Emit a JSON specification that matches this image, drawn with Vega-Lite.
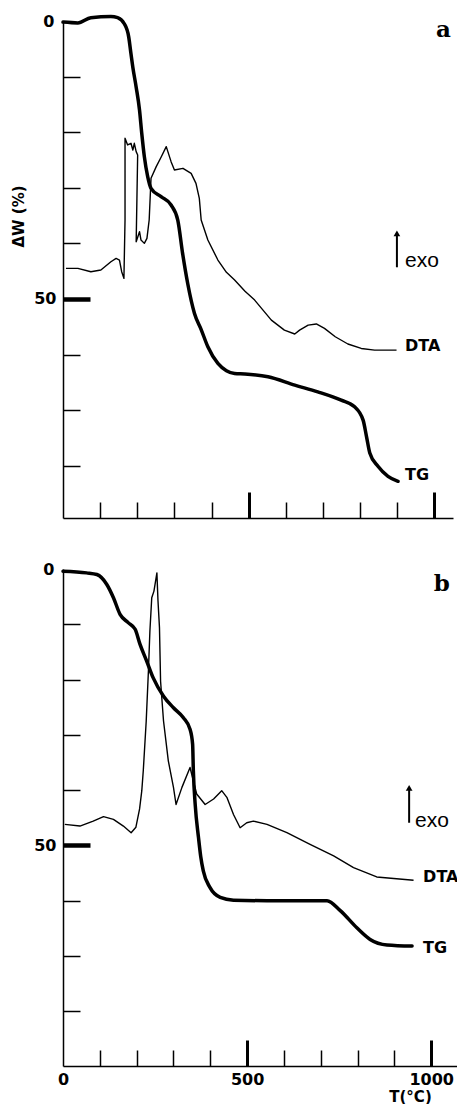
{
  "$schema": "https://vega.github.io/schema/vega-lite/v6.json",
  "background": "white",
  "padding": {"left": 11, "top": 13, "right": 0, "bottom": 0},
  "spacing": 41,
  "config": {
    "view": {"stroke": null},
    "font": "DejaVu Sans",
    "axis": {
      "grid": false,
      "tickCount": 30,
      "domainColor": "black",
      "domainWidth": 1.5,
      "tickColor": "black",
      "labelColor": "black",
      "labelFont": "DejaVu Sans",
      "labelFontWeight": "bold",
      "labelFontSize": 16,
      "titleColor": "black",
      "titleFont": "DejaVu Sans",
      "titleFontWeight": "bold"
    }
  },
  "datasets": {
    "tgA": [
      {"T": 0, "W": 0.2}, {"T": 40, "W": 0.35}, {"T": 75, "W": -0.6}, {"T": 129, "W": -0.8}, {"T": 147, "W": -0.6},
      {"T": 165, "W": 0.5}, {"T": 177, "W": 2.9}, {"T": 183, "W": 5.9}, {"T": 188, "W": 8.3}, {"T": 197, "W": 11.9},
      {"T": 206, "W": 16}, {"T": 212, "W": 20.2}, {"T": 219, "W": 24.4}, {"T": 228, "W": 28}, {"T": 237, "W": 30.1},
      {"T": 264, "W": 31.6}, {"T": 291, "W": 33.1}, {"T": 309, "W": 35.8}, {"T": 322, "W": 41.8}, {"T": 336, "W": 47.3},
      {"T": 354, "W": 52.6}, {"T": 372, "W": 55.5}, {"T": 390, "W": 58.6}, {"T": 417, "W": 61.6}, {"T": 440, "W": 62.9},
      {"T": 462, "W": 63.4}, {"T": 489, "W": 63.5}, {"T": 552, "W": 64}, {"T": 624, "W": 65.5}, {"T": 686, "W": 66.7},
      {"T": 749, "W": 68.2}, {"T": 785, "W": 69.4}, {"T": 808, "W": 71.8}, {"T": 817, "W": 74.7}, {"T": 826, "W": 77.7},
      {"T": 848, "W": 80.1}, {"T": 875, "W": 81.9}, {"T": 902, "W": 82.8}
    ],
    "dtaA": [
      {"T": 8, "W": 44.5}, {"T": 40, "W": 44.5}, {"T": 75, "W": 45.1}, {"T": 102, "W": 44.8}, {"T": 129, "W": 43.3},
      {"T": 143, "W": 42.7}, {"T": 152, "W": 43.0}, {"T": 158, "W": 45.1}, {"T": 164, "W": 46.3}, {"T": 167, "W": 35.8},
      {"T": 167, "W": 21.1}, {"T": 174, "W": 22.3}, {"T": 183, "W": 22.0}, {"T": 188, "W": 23.2}, {"T": 192, "W": 22.0},
      {"T": 197, "W": 23.5}, {"T": 201, "W": 24.1}, {"T": 199, "W": 32}, {"T": 197, "W": 39.7}, {"T": 206, "W": 37.9},
      {"T": 210, "W": 39.4}, {"T": 219, "W": 40.0}, {"T": 226, "W": 39.1}, {"T": 232, "W": 35.8}, {"T": 237, "W": 28.3},
      {"T": 251, "W": 26.2}, {"T": 264, "W": 24.5}, {"T": 278, "W": 22.6}, {"T": 291, "W": 25.3}, {"T": 300, "W": 26.8},
      {"T": 323, "W": 26.5}, {"T": 345, "W": 27.4}, {"T": 358, "W": 29.2}, {"T": 367, "W": 31.9}, {"T": 372, "W": 35.8},
      {"T": 390, "W": 39.4}, {"T": 417, "W": 43.0}, {"T": 440, "W": 45.2}, {"T": 462, "W": 46.6}, {"T": 490, "W": 48.6},
      {"T": 516, "W": 50.2}, {"T": 561, "W": 53.8}, {"T": 596, "W": 55.6}, {"T": 624, "W": 56.3}, {"T": 637, "W": 55.6},
      {"T": 660, "W": 54.7}, {"T": 682, "W": 54.5}, {"T": 704, "W": 55.3}, {"T": 733, "W": 56.8}, {"T": 767, "W": 58.1},
      {"T": 803, "W": 58.9}, {"T": 839, "W": 59.2}, {"T": 898, "W": 59.2}
    ],
    "tgB": [
      {"T": 0, "W": 0.4}, {"T": 64, "W": 0.7}, {"T": 92, "W": 1.0}, {"T": 119, "W": 2.8}, {"T": 137, "W": 5.2},
      {"T": 155, "W": 8.2}, {"T": 177, "W": 9.7}, {"T": 196, "W": 10.9}, {"T": 209, "W": 13.6}, {"T": 227, "W": 16.6},
      {"T": 245, "W": 19.7}, {"T": 273, "W": 23.0}, {"T": 300, "W": 25.1}, {"T": 327, "W": 26.9}, {"T": 345, "W": 29.0},
      {"T": 352, "W": 31.7}, {"T": 354, "W": 36.5}, {"T": 359, "W": 42.6}, {"T": 368, "W": 48.6}, {"T": 374, "W": 52},
      {"T": 381, "W": 54.6}, {"T": 399, "W": 57.6}, {"T": 427, "W": 59.4}, {"T": 463, "W": 59.9}, {"T": 554, "W": 60.0},
      {"T": 644, "W": 60.0}, {"T": 717, "W": 60.0}, {"T": 753, "W": 61.8}, {"T": 798, "W": 64.9}, {"T": 834, "W": 67.0},
      {"T": 880, "W": 68.0}, {"T": 948, "W": 68.2}
    ],
    "dtaB": [
      {"T": 5, "W": 46.2}, {"T": 46, "W": 46.5}, {"T": 82, "W": 45.6}, {"T": 110, "W": 44.8}, {"T": 137, "W": 45.3},
      {"T": 164, "W": 46.5}, {"T": 185, "W": 47.7}, {"T": 198, "W": 46.7}, {"T": 208, "W": 43.4}, {"T": 214, "W": 40.1},
      {"T": 218, "W": 36.5}, {"T": 226, "W": 27.5}, {"T": 232, "W": 18.4}, {"T": 236, "W": 11.2}, {"T": 241, "W": 5.2},
      {"T": 247, "W": 4.0}, {"T": 255, "W": 0.7}, {"T": 258, "W": 5.8}, {"T": 262, "W": 10.6}, {"T": 265, "W": 20.3},
      {"T": 273, "W": 27.5}, {"T": 286, "W": 34.7}, {"T": 300, "W": 39.5}, {"T": 307, "W": 42.6}, {"T": 323, "W": 39.5},
      {"T": 345, "W": 35.9}, {"T": 363, "W": 40.7}, {"T": 386, "W": 42.6}, {"T": 409, "W": 41.6}, {"T": 431, "W": 40.1},
      {"T": 445, "W": 41.3}, {"T": 463, "W": 44.4}, {"T": 481, "W": 46.8}, {"T": 499, "W": 45.9}, {"T": 517, "W": 45.6},
      {"T": 554, "W": 46.2}, {"T": 608, "W": 47.7}, {"T": 671, "W": 49.8}, {"T": 735, "W": 51.9}, {"T": 789, "W": 54.0},
      {"T": 852, "W": 55.7}, {"T": 952, "W": 56.3}
    ]
  },
  "vconcat": [
    {
      "width": 390,
      "height": 497,
      "layer": [
        {
          "data": {"name": "tgA"},
          "mark": {"type": "line", "color": "black", "strokeWidth": 3.5, "strokeCap": "round", "strokeJoin": "round", "interpolate": "monotone"},
          "encoding": {
            "x": {
              "field": "T", "type": "quantitative",
              "scale": {"domain": [0, 1050], "nice": false, "zero": false},
              "axis": {
                "values": [100, 200, 300, 400, 500, 600, 700, 800, 900, 1000],
                "tickCount": 30,
                "labels": false,
                "title": null,
                "tickSize": {"condition": {"test": "datum.value == 500 || datum.value == 1000", "value": -26}, "value": -16},
                "tickWidth": {"condition": {"test": "datum.value == 500 || datum.value == 1000", "value": 3}, "value": 1.5}
              }
            },
            "y": {
              "field": "W", "type": "quantitative",
              "scale": {"domain": [0, 89.4], "reverse": true, "nice": false, "zero": false},
              "axis": {
                "values": [0, 10, 20, 30, 40, 50, 60, 70, 80],
                "tickCount": 30,
                "labelExpr": "datum.value == 0 || datum.value == 50 ? datum.label : ''",
                "labelPadding": {"condition": {"test": "datum.value == 50", "value": 34}, "value": 26},
                "tickSize": {"condition": {"test": "datum.value == 50", "value": -27}, "value": -17},
                "tickWidth": {"condition": {"test": "datum.value == 50", "value": 4.5}, "value": 1.5},
                "tickOpacity": {"condition": {"test": "datum.value == 0", "value": 0}, "value": 1},
                "title": "ΔW (%)",
                "titleFontSize": 15,
                "titleAngle": 270,
                "titleX": -45,
                "titleY": 195,
                "titleAlign": "center",
                "titleBaseline": "middle"
              }
            }
          }
        },
        {
          "data": {"name": "dtaA"},
          "mark": {"type": "line", "color": "black", "strokeWidth": 1.4, "strokeJoin": "round"},
          "encoding": {
            "x": {"field": "T", "type": "quantitative"},
            "y": {"field": "W", "type": "quantitative"},
            "order": {"value": null}
          }
        },
        {
          "data": {"values": [{}]},
          "mark": {"type": "text", "font": "DejaVu Serif", "fontWeight": "bold", "fontSize": 23, "align": "center", "baseline": "middle", "color": "black"},
          "encoding": {"x": {"datum": 1024, "type": "quantitative"}, "y": {"datum": 1.7, "type": "quantitative"}, "text": {"value": "a"}}
        },
        {
          "data": {"values": [{}]},
          "mark": {"type": "rule", "color": "black", "strokeWidth": 2},
          "encoding": {"x": {"datum": 899, "type": "quantitative"}, "y": {"datum": 44.3, "type": "quantitative"}, "y2": {"datum": 38.5}}
        },
        {
          "data": {"values": [{}]},
          "mark": {"type": "point", "shape": "triangle-up", "filled": true, "size": 45, "color": "black", "opacity": 1},
          "encoding": {"x": {"datum": 899, "type": "quantitative"}, "y": {"datum": 38.2, "type": "quantitative"}}
        },
        {
          "data": {"values": [{}]},
          "mark": {"type": "text", "font": "Liberation Sans", "fontSize": 21, "align": "left", "baseline": "alphabetic", "color": "black"},
          "encoding": {"x": {"datum": 921, "type": "quantitative"}, "y": {"datum": 44.3, "type": "quantitative"}, "text": {"value": "exo"}}
        },
        {
          "data": {"values": [{}]},
          "mark": {"type": "text", "font": "DejaVu Sans", "fontWeight": "bold", "fontSize": 16, "align": "left", "baseline": "middle", "color": "black"},
          "encoding": {"x": {"datum": 921, "type": "quantitative"}, "y": {"datum": 58.5, "type": "quantitative"}, "text": {"value": "DTA"}}
        },
        {
          "data": {"values": [{}]},
          "mark": {"type": "text", "font": "DejaVu Sans", "fontWeight": "bold", "fontSize": 16, "align": "left", "baseline": "middle", "color": "black"},
          "encoding": {"x": {"datum": 921, "type": "quantitative"}, "y": {"datum": 81.6, "type": "quantitative"}, "text": {"value": "TG"}}
        }
      ]
    },
    {
      "width": 394,
      "height": 497,
      "layer": [
        {
          "data": {"name": "tgB"},
          "mark": {"type": "line", "color": "black", "strokeWidth": 3.5, "strokeCap": "round", "strokeJoin": "round", "interpolate": "monotone"},
          "encoding": {
            "x": {
              "field": "T", "type": "quantitative",
              "scale": {"domain": [0, 1070], "nice": false, "zero": false},
              "axis": {
                "values": [0, 100, 200, 300, 400, 500, 600, 700, 800, 900, 1000],
                "tickCount": 30,
                "labelExpr": "datum.value == 0 || datum.value == 500 || datum.value == 1000 ? datum.label : ''",
                "format": "d",
                "labelFlush": false,
                "labelOverlap": false,
                "labelPadding": {"condition": {"test": "datum.value == 500 || datum.value == 1000", "value": 31}, "value": 21},
                "tickSize": {"condition": {"test": "datum.value == 500 || datum.value == 1000", "value": -26}, "value": -16},
                "tickWidth": {"condition": {"test": "datum.value == 500 || datum.value == 1000", "value": 3}, "value": 1.5},
                "tickOpacity": {"condition": {"test": "datum.value == 0", "value": 0}, "value": 1},
                "title": "T(°C)",
                "titleFontSize": 15,
                "titleX": 347,
                "titleY": 30,
                "titleAlign": "center",
                "titleBaseline": "middle"
              }
            },
            "y": {
              "field": "W", "type": "quantitative",
              "scale": {"domain": [0, 89.9], "reverse": true, "nice": false, "zero": false},
              "axis": {
                "values": [0, 10, 20, 30, 40, 50, 60, 70, 80],
                "tickCount": 30,
                "labelExpr": "datum.value == 0 || datum.value == 50 ? datum.label : ''",
                "labelPadding": {"condition": {"test": "datum.value == 50", "value": 34}, "value": 26},
                "tickSize": {"condition": {"test": "datum.value == 50", "value": -27}, "value": -17},
                "tickWidth": {"condition": {"test": "datum.value == 50", "value": 4.5}, "value": 1.5},
                "tickOpacity": {"condition": {"test": "datum.value == 0", "value": 0}, "value": 1},
                "title": null
              }
            }
          }
        },
        {
          "data": {"name": "dtaB"},
          "mark": {"type": "line", "color": "black", "strokeWidth": 1.4, "strokeJoin": "round"},
          "encoding": {
            "x": {"field": "T", "type": "quantitative"},
            "y": {"field": "W", "type": "quantitative"},
            "order": {"value": null}
          }
        },
        {
          "data": {"values": [{}]},
          "mark": {"type": "text", "font": "DejaVu Serif", "fontWeight": "bold", "fontSize": 23, "align": "center", "baseline": "middle", "color": "black"},
          "encoding": {"x": {"datum": 1029, "type": "quantitative"}, "y": {"datum": 2.7, "type": "quantitative"}, "text": {"value": "b"}}
        },
        {
          "data": {"values": [{}]},
          "mark": {"type": "rule", "color": "black", "strokeWidth": 2},
          "encoding": {"x": {"datum": 940, "type": "quantitative"}, "y": {"datum": 45.9, "type": "quantitative"}, "y2": {"datum": 40.0}}
        },
        {
          "data": {"values": [{}]},
          "mark": {"type": "point", "shape": "triangle-up", "filled": true, "size": 45, "color": "black", "opacity": 1},
          "encoding": {"x": {"datum": 940, "type": "quantitative"}, "y": {"datum": 39.6, "type": "quantitative"}}
        },
        {
          "data": {"values": [{}]},
          "mark": {"type": "text", "font": "Liberation Sans", "fontSize": 21, "align": "left", "baseline": "alphabetic", "color": "black"},
          "encoding": {"x": {"datum": 956, "type": "quantitative"}, "y": {"datum": 46.7, "type": "quantitative"}, "text": {"value": "exo"}}
        },
        {
          "data": {"values": [{}]},
          "mark": {"type": "text", "font": "DejaVu Sans", "fontWeight": "bold", "fontSize": 16, "align": "left", "baseline": "middle", "color": "black"},
          "encoding": {"x": {"datum": 978, "type": "quantitative"}, "y": {"datum": 55.7, "type": "quantitative"}, "text": {"value": "DTA"}}
        },
        {
          "data": {"values": [{}]},
          "mark": {"type": "text", "font": "DejaVu Sans", "fontWeight": "bold", "fontSize": 16, "align": "left", "baseline": "middle", "color": "black"},
          "encoding": {"x": {"datum": 978, "type": "quantitative"}, "y": {"datum": 68.5, "type": "quantitative"}, "text": {"value": "TG"}}
        }
      ]
    }
  ]
}
